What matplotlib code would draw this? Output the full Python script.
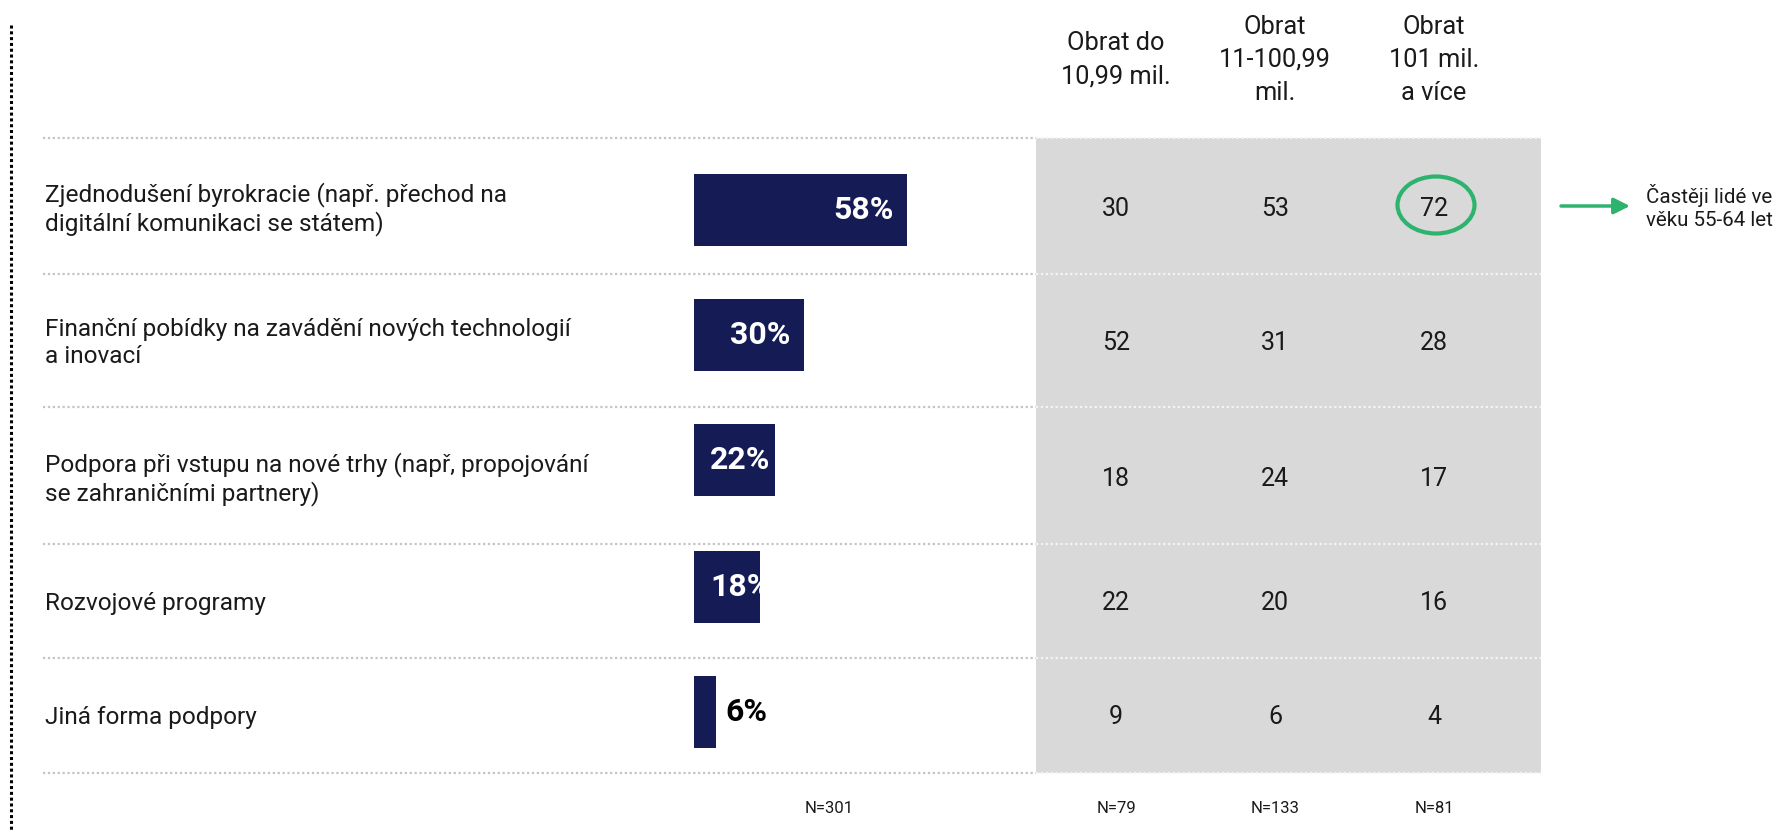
import numpy as np
import matplotlib
matplotlib.use("Agg")
from matplotlib import pyplot as plt
from matplotlib.patches import Ellipse, Rectangle

plt.rcParams['font.family'] = ['Roboto', 'DejaVu Sans']

# data
categories = [
    "Zjednodušení byrokracie (např. přechod na\ndigitální komunikaci se státem)",
    "Finanční pobídky na zavádění nových technologií\na inovací",
    "Podpora při vstupu na nové trhy (např, propojování\nse zahraničními partnery)",
    "Rozvojové programy",
    "Jiná forma podpory",
]
total_pct = [58, 30, 22, 18, 6]
col_headers = ["Obrat do\n10,99 mil.", "Obrat\n11-100,99\nmil.", "Obrat\n101 mil.\na více"]
turnover_small = [30, 52, 18, 22, 9]
turnover_mid = [53, 31, 24, 20, 6]
turnover_big = [72, 28, 17, 16, 4]
n_total = "N=301"
n_cols = ["N=79", "N=133", "N=81"]
note = "Častěji lidé ve\nvěku 55-64 let"

NAVY = "#141B55"
GRAY = "#D9D9D9"
GREEN = "#2DB36E"
TXT = "#1a1a1a"

fig = plt.figure(figsize=(17.8, 8.3), dpi=100)
ax = fig.add_axes([0, 0, 1, 1])
ax.set_xlim(0, 1780)
ax.set_ylim(830, 0)
ax.axis("off")

# layout (pixel units)
bar_x0 = 694
px_per_pct = 3.68
bar_y = [210, 335, 460, 587, 712]
text_y = [209, 343, 479, 603, 717]
sep_y = [138, 274, 407, 544, 658, 773]
col_x = [1116, 1275, 1434]
tab_x0, tab_x1 = 1036, 1541

# gray table background
ax.add_patch(Rectangle((tab_x0, sep_y[0]), tab_x1 - tab_x0, sep_y[-1] - sep_y[0],
                       facecolor=GRAY, edgecolor="none", zorder=0))

# separators
for y in sep_y:
    ax.plot([43, tab_x0], [y, y], color="#C4C4C4", lw=1.6, ls=(0, (1, 1.2)), zorder=1)
    ax.plot([tab_x0, tab_x1], [y, y], color="#F4F4F4", lw=1.6, ls=(0, (1, 1.2)), zorder=1)

# left vertical dotted line
ax.plot([11, 11], [25, 830], color="black", lw=2.2, ls=(0, (1, 0.9)), zorder=1)

# row labels
for lab, y in zip(categories, text_y):
    ax.text(45, y, lab, ha="left", va="center", fontsize=17.6, color=TXT,
            linespacing=1.2)

# bars
widths = np.array(total_pct) * px_per_pct
ax.barh(bar_y, widths, left=bar_x0, height=72, color=NAVY, zorder=2)
for v, w, y in zip(total_pct, widths, bar_y):
    lab = f"{v}%"
    if w > 35:
        if w - 14 - 70 > 15:
            ax.text(bar_x0 + w - 14, y, lab, ha="right", va="center", color="white",
                    fontsize=23, fontweight="bold", zorder=3)
        else:
            ax.text(bar_x0 + 16, y, lab, ha="left", va="center", color="white",
                    fontsize=23, fontweight="bold", zorder=3)
    else:
        ax.text(bar_x0 + w + 9, y, lab, ha="left", va="center", color="black",
                fontsize=23, fontweight="bold", zorder=3)

# table
for x, col in zip(col_x, [turnover_small, turnover_mid, turnover_big]):
    for v, y in zip(col, text_y):
        ax.text(x, y, str(v), ha="center", va="center", fontsize=18, color=TXT)

for x, h in zip(col_x, col_headers):
    ax.text(x, 60, h, ha="center", va="center", multialignment="center",
            fontsize=18.3, color=TXT, linespacing=1.5)

# sample sizes
ax.text(829, 808, n_total, ha="center", va="center", fontsize=12, color=TXT)
for x, n in zip(col_x, n_cols):
    ax.text(x, 808, n, ha="center", va="center", fontsize=12, color=TXT)

# highlight
ax.add_patch(Ellipse((col_x[2] + 2, 205), 77, 57, fill=False, edgecolor=GREEN, lw=3, zorder=3))
ax.annotate("", xy=(1630, 206), xytext=(1561, 206),
            arrowprops=dict(arrowstyle="-|>", color=GREEN, lw=2.5, mutation_scale=24,
                            shrinkA=0, shrinkB=0))
ax.text(1646, 207, note, ha="left", va="center", fontsize=14.8, color=TXT,
        linespacing=1.3)

fig.savefig("out.png", dpi=100)
